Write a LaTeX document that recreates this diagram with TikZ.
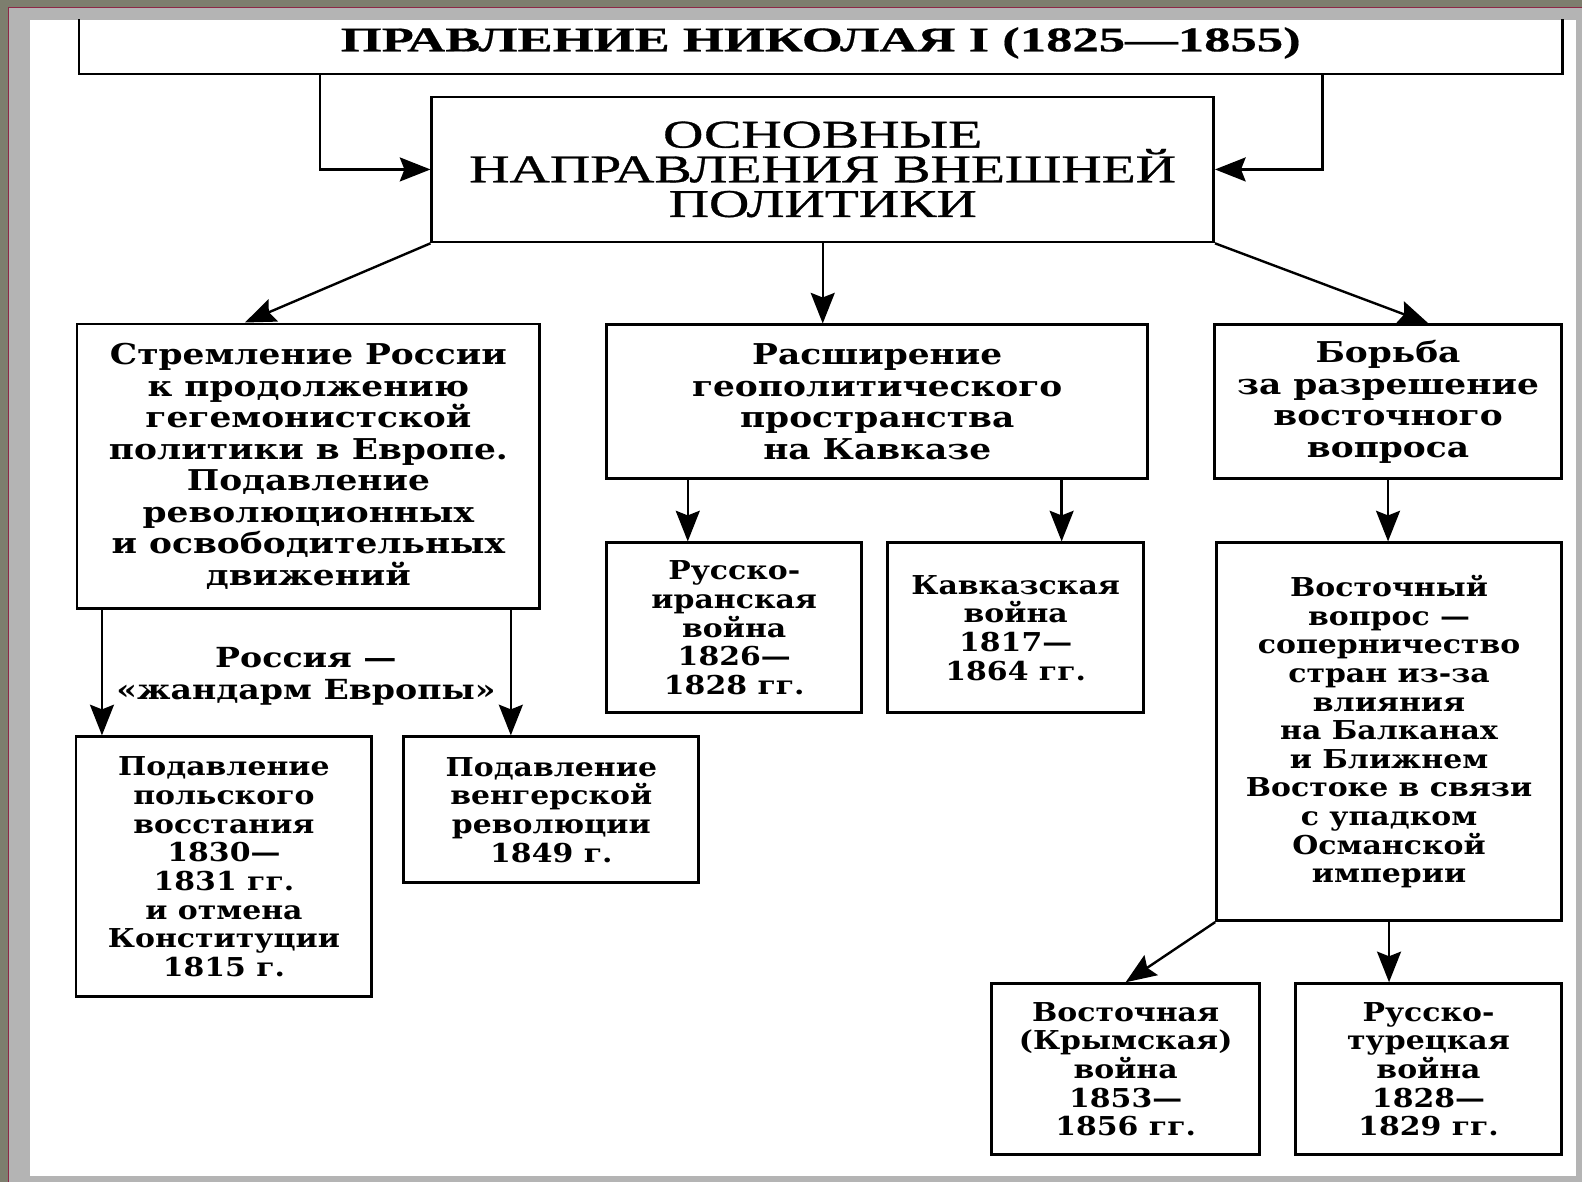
\documentclass[tikz,border=0pt]{standalone}
\usepackage{fontspec}
\setmainfont{DejaVu Serif}
\newfontfamily\boxfont{DejaVu Serif}[FakeStretch=1.15]
\newfontfamily\bigboxfont{DejaVu Serif}[FakeStretch=1.2]
\newfontfamily\centerfont{Liberation Serif}[FakeStretch=1.42, FakeBold=0.8]
\newfontfamily\titlefont{Liberation Serif}[FakeStretch=1.52, FakeBold=0.5]
\usetikzlibrary{arrows.meta}
\definecolor{frameolive}{RGB}{125,126,110}
\definecolor{framegray}{RGB}{180,180,180}
\definecolor{framered}{RGB}{140,40,70}
\tikzset{
  box/.style={draw, line width=2.1pt, inner sep=0pt, align=center},
  big/.style={font=\bigboxfont\bfseries\fontsize{21.5pt}{23.7pt}\selectfont},
  small/.style={font=\boxfont\bfseries\fontsize{19.5pt}{21.5pt}\selectfont},
  arr/.style={line width=1.8pt, -{Stealth[length=23pt,width=18pt,inset=3.5pt]}},
}
\begin{document}
\begin{tikzpicture}[x=0.75pt,y=-0.75pt]
\fill[frameolive] (0,0) rectangle (1583,1182);
\fill[framegray] (9,8) rectangle (1583,1182);
\draw[framered, line width=0.8pt] (8.5,1182) -- (8.5,7.5) -- (1583,7.5);
\fill[white] (30,20) rectangle (1577,1176);
\useasboundingbox (0,0) rectangle (1583,1182);
\begin{scope}
\clip (30,20) rectangle (1577,1176);
\node[box, minimum width=1484*0.75pt, minimum height=62*0.75pt,
      font=\titlefont\bfseries\fontsize{26pt}{28pt}\selectfont] (T) at (821,43)
  {ПРАВЛЕНИЕ НИКОЛАЯ I (1825—1855)};
\node[box, minimum width=782*0.75pt, minimum height=145*0.75pt,
      font=\centerfont\fontsize{29.5pt}{26pt}\selectfont] (B0) at (823,169.5)
  {ОСНОВНЫЕ\\НАПРАВЛЕНИЯ ВНЕШНЕЙ\\ПОЛИТИКИ};
\node[box, big, minimum width=463*0.75pt, minimum height=285*0.75pt] (L1) at (308.5,466.5)
  {Стремление России\\к продолжению\\гегемонистской\\политики в Европе.\\Подавление\\революционных\\и освободительных\\движений};
\node[box, big, minimum width=541*0.75pt, minimum height=154*0.75pt] (C1) at (877.5,402)
  {Расширение\\геополитического\\пространства\\на Кавказе};
\node[box, big, minimum width=347*0.75pt, minimum height=154*0.75pt] (R1) at (1388.5,402)
  {Борьба\\за разрешение\\восточного\\вопроса};
\node[box, small, minimum width=255*0.75pt, minimum height=170*0.75pt] (C2) at (734.5,628)
  {Русско-\\иранская\\война\\1826—\\1828 гг.};
\node[box, small, minimum width=256*0.75pt, minimum height=170*0.75pt] (C3) at (1016,628)
  {Кавказская\\война\\1817—\\1864 гг.};
\node[box, small, minimum width=345*0.75pt, minimum height=378*0.75pt] (R2) at (1389.5,732)
  {Восточный\\вопрос —\\соперничество\\стран из-за\\влияния\\на Балканах\\и Ближнем\\Востоке в связи\\с упадком\\Османской\\империи};
\node[box, small, minimum width=268*0.75pt, minimum height=171*0.75pt] (R3) at (1126,1069.5)
  {Восточная\\(Крымская)\\война\\1853—\\1856 гг.};
\node[box, small, minimum width=266*0.75pt, minimum height=171*0.75pt] (R4) at (1429,1069.5)
  {Русско-\\турецкая\\война\\1828—\\1829 гг.};
\node[box, small, minimum width=296*0.75pt, minimum height=260*0.75pt] (L2) at (224,867)
  {Подавление\\польского\\восстания\\1830—\\1831 гг.\\и отмена\\Конституции\\1815 г.};
\node[box, small, minimum width=295*0.75pt, minimum height=146*0.75pt] (L3) at (551.5,810)
  {Подавление\\венгерской\\революции\\1849 г.};
\node[align=center, inner sep=0pt, font=\bigboxfont\bfseries\fontsize{20.75pt}{24pt}\selectfont] (lab) at (306,677)
  {Россия —\\«жандарм Европы»};
\coordinate (tl) at (320,0);
\coordinate (tr) at (1323,0);
\coordinate (la) at (245,0);
\coordinate (ra) at (1429,0);
\coordinate (c2x) at (688,0);
\coordinate (c3x) at (1062,0);
\coordinate (l2x) at (102,0);
\coordinate (l3x) at (511,0);
\draw[arr] (T.south -| tl) |- (B0.west);
\draw[arr] (T.south -| tr) |- (B0.east);
\draw[arr] (B0.south west) -- (L1.north -| la);
\draw[arr] (B0.south) -- (B0.south |- C1.north);
\draw[arr] (B0.south east) -- (R1.north -| ra);
\draw[arr] (C1.south -| c2x) -- (C2.north -| c2x);
\draw[arr] (C1.south -| c3x) -- (C3.north -| c3x);
\draw[arr] (R1.south) -- (R1.south |- R2.north);
\draw[arr] (R2.south west) -- (R3.north);
\draw[arr] (R2.south) -- (R2.south |- R4.north);
\draw[arr] (L1.south -| l2x) -- (L2.north -| l2x);
\draw[arr] (L1.south -| l3x) -- (L3.north -| l3x);
\end{scope}
\end{tikzpicture}
\end{document}
